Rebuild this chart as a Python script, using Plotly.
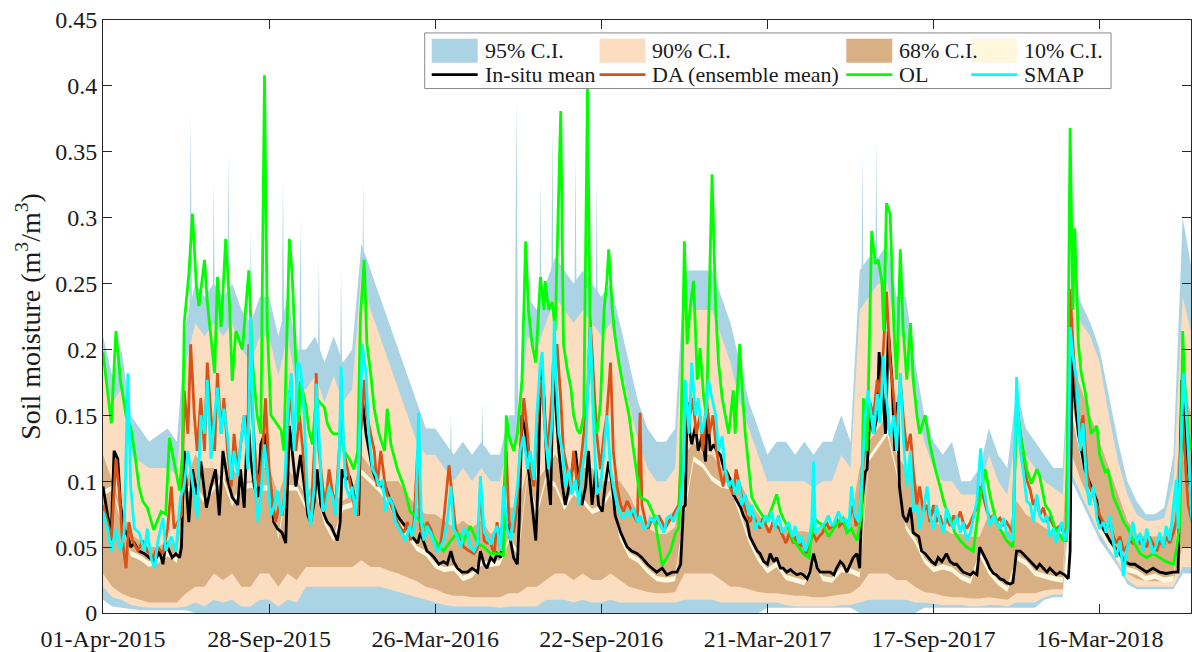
import pandas as pd
import plotly.graph_objects as go

# ---------------- data ----------------
START = "01-Apr-2015"
x_tick_labels = ["01-Apr-2015", "28-Sep-2015", "26-Mar-2016", "22-Sep-2016",
                 "21-Mar-2017", "17-Sep-2017", "16-Mar-2018"]
X_END_DAY = 1179
y_tick_vals = [0, 0.05, 0.1, 0.15, 0.2, 0.25, 0.3, 0.35, 0.4, 0.45]
y_tick_text = ["0", "0.05", "0.1", "0.15", "0.2", "0.25", "0.3", "0.35", "0.4", "0.45"]

# (day offset from 01-Apr-2015, soil moisture)
insitu = [(0, .096), (5, .074), (9, .061), (12, .123), (16, .117), (19, .082), (23, .064), (27, .058), (30, .050),
          (34, .053), (39, .047), (45, .045), (50, .042), (56, .039), (61, .047), (65, .037), (68, .053), (72, .047),
          (75, .042), (79, .045), (83, .042), (85, .050), (88, .123), (90, .099), (93, .069), (97, .109), (102, .090),
          (106, .115), (112, .080), (117, .096), (122, .109), (126, .074), (130, .123), (135, .101), (140, .088),
          (146, .082), (149, .109), (153, .080), (157, .150), (160, .117), (164, .096), (168, .088), (171, .128),
          (175, .136), (178, .109), (182, .093), (185, .069), (189, .064), (194, .061), (198, .053), (202, .142),
          (205, .123), (209, .096), (214, .120), (218, .096), (222, .074), (225, .069), (229, .085), (232, .109),
          (236, .082), (240, .074), (243, .069), (247, .066), (250, .061), (254, .055), (257, .069), (259, .109),
          (263, .101), (267, .104), (270, .096), (274, .082), (277, .074), (279, .136), (281, .163), (285, .136),
          (288, .123), (292, .109), (296, .101), (299, .099), (303, .096), (306, .096), (310, .088), (314, .082),
          (319, .074), (324, .069), (330, .064), (335, .058), (341, .053), (344, .061), (348, .053), (351, .047),
          (355, .045), (359, .042), (364, .037), (369, .039), (373, .037), (377, .047), (380, .039), (384, .034),
          (389, .031), (395, .031), (400, .034), (406, .031), (409, .047), (413, .037), (416, .034), (420, .042),
          (424, .039), (427, .045), (431, .042), (436, .074), (440, .061), (445, .042), (449, .037), (451, .069),
          (454, .150), (458, .136), (461, .109), (465, .082), (469, .055), (472, .109), (474, .190), (478, .163),
          (481, .109), (485, .082), (488, .190), (490, .163), (494, .123), (498, .096), (501, .082), (505, .096),
          (508, .109), (512, .123), (516, .096), (519, .082), (523, .096), (526, .123), (530, .082), (534, .109),
          (537, .082), (541, .077), (544, .096), (548, .115), (552, .096), (555, .074), (561, .061), (568, .050),
          (573, .047), (579, .045), (584, .042), (590, .037), (595, .034), (600, .031), (606, .034), (611, .029),
          (617, .031), (622, .031), (626, .037), (629, .080), (631, .082), (633, .160), (636, .136), (638, .128),
          (642, .142), (645, .123), (649, .134), (653, .115), (655, .155), (658, .123), (662, .128), (665, .123),
          (669, .120), (673, .109), (676, .107), (680, .101), (683, .090), (687, .085), (691, .080), (694, .074),
          (698, .069), (701, .058), (705, .053), (709, .047), (712, .045), (716, .039), (720, .037), (723, .045),
          (727, .039), (730, .042), (734, .034), (737, .034), (741, .031), (745, .033), (748, .031), (752, .029),
          (756, .030), (759, .029), (763, .026), (766, .031), (770, .045), (774, .034), (777, .031), (781, .031),
          (784, .031), (788, .031), (792, .029), (795, .034), (799, .039), (802, .037), (806, .031), (810, .037),
          (813, .042), (817, .045), (820, .034), (822, .082), (826, .107), (828, .109), (831, .150), (835, .136),
          (839, .150), (841, .198), (844, .177), (848, .136), (851, .214), (855, .177), (858, .123), (861, .160),
          (863, .096), (867, .074), (871, .069), (875, .080), (878, .061), (884, .058), (887, .047), (891, .045),
          (894, .042), (898, .039), (902, .037), (905, .042), (909, .039), (914, .045), (918, .039), (922, .037),
          (925, .037), (929, .034), (932, .031), (936, .030), (940, .029), (943, .031), (947, .029), (950, .050),
          (954, .045), (958, .039), (961, .034), (965, .030), (968, .029), (972, .026), (976, .025), (979, .023),
          (983, .022), (986, .023), (990, .047), (994, .047), (997, .045), (1001, .042), (1005, .039), (1008, .037),
          (1012, .034), (1015, .037), (1019, .034), (1023, .031), (1026, .034), (1030, .031), (1033, .029),
          (1037, .031), (1042, .029), (1046, .026), (1048, .047), (1050, .195), (1053, .163), (1057, .136),
          (1060, .123), (1064, .109), (1068, .101), (1071, .096), (1077, .085), (1080, .069), (1086, .061),
          (1091, .055), (1096, .050), (1102, .045), (1107, .039), (1113, .037), (1118, .037), (1124, .034),
          (1131, .031), (1138, .034), (1145, .031), (1152, .030), (1160, .031), (1165, .031), (1169, .177),
          (1172, .150), (1176, .109), (1180, .082)]

da_mean = [(0, .082), (5, .069), (9, .055), (14, .117), (18, .090), (21, .055), (25, .034), (28, .069), (32, .055),
           (38, .047), (43, .055), (48, .047), (54, .042), (59, .050), (65, .045), (70, .064), (74, .096), (77, .064),
           (81, .069), (85, .074), (88, .169), (92, .136), (95, .204), (99, .150), (102, .123), (106, .163),
           (110, .123), (113, .190), (117, .150), (121, .123), (124, .182), (128, .136), (131, .163), (135, .123),
           (139, .096), (142, .136), (146, .109), (149, .128), (153, .150), (157, .123), (158, .204), (162, .150),
           (166, .109), (169, .096), (173, .123), (176, .163), (180, .109), (184, .082), (187, .069), (191, .082),
           (194, .074), (198, .096), (202, .169), (205, .150), (209, .123), (213, .150), (218, .109), (222, .082),
           (225, .069), (229, .123), (231, .182), (234, .123), (238, .096), (241, .082), (245, .109), (249, .090),
           (252, .082), (256, .123), (258, .158), (261, .123), (265, .109), (268, .096), (272, .082), (276, .074),
           (279, .136), (283, .177), (286, .150), (290, .136), (294, .123), (297, .096), (301, .123), (305, .101),
           (308, .090), (312, .082), (315, .077), (319, .069), (323, .064), (326, .061), (330, .069), (333, .055),
           (337, .069), (341, .123), (344, .064), (348, .055), (351, .069), (355, .064), (359, .055), (362, .047),
           (366, .053), (369, .069), (375, .112), (379, .082), (382, .064), (386, .058), (391, .050), (397, .047),
           (402, .045), (406, .050), (409, .096), (413, .055), (416, .053), (420, .053), (424, .045), (427, .069),
           (431, .047), (434, .082), (437, .123), (440, .069), (445, .061), (449, .082), (452, .123), (456, .163),
           (460, .136), (463, .109), (467, .096), (470, .136), (474, .177), (478, .150), (481, .123), (485, .150),
           (489, .190), (492, .204), (496, .163), (499, .123), (503, .109), (507, .096), (510, .123), (514, .096),
           (517, .109), (521, .136), (525, .163), (528, .222), (532, .177), (535, .136), (539, .109), (543, .136),
           (546, .150), (550, .190), (553, .123), (557, .096), (561, .082), (564, .077), (568, .085), (571, .080),
           (575, .074), (579, .069), (582, .152), (584, .082), (588, .069), (591, .064), (595, .072), (599, .066),
           (602, .074), (606, .069), (609, .064), (613, .069), (617, .074), (620, .077), (624, .082), (626, .109),
           (629, .115), (632, .160), (636, .150), (639, .163), (643, .136), (647, .150), (650, .123), (654, .163),
           (657, .136), (661, .150), (665, .123), (668, .109), (672, .096), (675, .109), (679, .096), (683, .090),
           (686, .109), (690, .096), (693, .085), (697, .077), (701, .069), (704, .074), (708, .069), (712, .064),
           (715, .072), (719, .066), (722, .061), (726, .069), (730, .066), (733, .064), (737, .058), (740, .053),
           (744, .061), (748, .053), (751, .058), (755, .050), (758, .053), (762, .045), (766, .053), (769, .061),
           (773, .055), (776, .058), (780, .061), (784, .069), (787, .064), (791, .066), (795, .072), (798, .066),
           (802, .069), (805, .064), (809, .072), (813, .082), (816, .066), (820, .074), (823, .109), (827, .136),
           (831, .160), (835, .150), (839, .177), (842, .163), (846, .204), (849, .244), (853, .190), (857, .163),
           (860, .136), (864, .177), (867, .150), (871, .123), (875, .136), (878, .109), (882, .082), (885, .096),
           (889, .077), (893, .082), (896, .069), (900, .082), (903, .069), (907, .074), (911, .064), (914, .072),
           (918, .066), (922, .074), (925, .069), (929, .077), (932, .069), (936, .064), (940, .069), (943, .074),
           (947, .080), (950, .096), (954, .088), (958, .077), (961, .072), (965, .074), (968, .069), (972, .072),
           (976, .066), (979, .069), (983, .064), (986, .061), (990, .160), (994, .136), (997, .123), (1001, .101),
           (1005, .093), (1008, .082), (1012, .088), (1015, .074), (1019, .080), (1023, .069), (1026, .072),
           (1030, .066), (1033, .064), (1037, .066), (1041, .061), (1044, .064), (1048, .246), (1051, .204),
           (1055, .163), (1059, .136), (1062, .150), (1066, .109), (1069, .096), (1073, .090), (1077, .082),
           (1080, .074), (1084, .069), (1087, .064), (1091, .069), (1095, .058), (1098, .053), (1102, .058),
           (1106, .047), (1109, .050), (1113, .055), (1116, .053), (1120, .058), (1124, .053), (1127, .055),
           (1131, .050), (1134, .058), (1138, .053), (1142, .047), (1145, .055), (1149, .050), (1152, .058),
           (1156, .053), (1160, .061), (1163, .069), (1167, .096), (1170, .150), (1172, .123), (1176, .082),
           (1180, .069)]

open_loop = [(0, .198), (9, .144), (14, .214), (19, .176), (25, .150), (30, .141), (34, .123), (39, .096), (43, .085),
             (48, .080), (55, .063), (63, .077), (68, .075), (72, .133), (83, .093), (86, .120), (88, .220),
             (93, .257), (97, .303), (101, .250), (104, .233), (110, .268), (113, .236), (117, .209), (121, .182),
             (124, .255), (128, .217), (133, .284), (137, .236), (140, .176), (144, .214), (151, .200), (158, .260),
             (162, .190), (167, .150), (171, .136), (175, .408), (178, .217), (182, .150), (193, .139), (196, .123),
             (202, .284), (205, .257), (209, .190), (212, .145), (214, .176), (220, .157), (223, .139), (227, .128),
             (231, .163), (240, .156), (243, .144), (247, .138), (250, .136), (258, .136), (261, .123), (267, .117),
             (272, .109), (276, .123), (279, .225), (283, .268), (286, .204), (290, .182), (294, .155), (299, .136),
             (305, .123), (308, .155), (312, .128), (319, .109), (326, .096), (333, .077), (341, .072), (348, .066),
             (355, .061), (362, .053), (369, .047), (377, .055), (384, .061), (391, .055), (398, .066), (406, .053),
             (413, .050), (420, .045), (431, .045), (434, .043), (437, .150), (440, .134), (445, .123), (449, .136),
             (454, .177), (458, .282), (461, .230), (465, .204), (469, .190), (474, .255), (478, .230), (479, .252),
             (483, .230), (487, .236), (490, .214), (496, .381), (499, .204), (503, .185), (507, .171), (510, .150),
             (514, .139), (517, .136), (521, .150), (525, .399), (528, .204), (532, .150), (535, .136), (539, .158),
             (543, .230), (546, .252), (548, .276), (552, .230), (555, .209), (559, .190), (564, .171), (570, .150),
             (575, .123), (582, .088), (590, .085), (597, .074), (604, .045), (606, .036), (611, .042), (615, .047),
             (620, .060), (624, .065), (626, .120), (630, .282), (633, .204), (636, .230), (640, .252), (644, .177),
             (647, .201), (651, .163), (654, .150), (660, .333), (664, .230), (667, .190), (671, .163), (674, .150),
             (678, .136), (683, .169), (685, .136), (690, .204), (692, .177), (696, .136), (700, .109), (703, .088),
             (709, .080), (714, .074), (719, .069), (725, .080), (730, .090), (734, .077), (737, .072), (743, .064),
             (748, .055), (754, .050), (759, .045), (765, .042), (770, .072), (775, .069), (781, .066), (786, .058),
             (792, .064), (797, .069), (802, .072), (806, .061), (811, .064), (817, .055), (822, .074), (824, .163),
             (828, .123), (833, .290), (837, .265), (840, .268), (844, .252), (846, .214), (849, .311), (853, .303),
             (857, .217), (860, .177), (864, .276), (867, .217), (871, .177), (875, .220), (878, .177), (882, .150),
             (885, .136), (891, .150), (896, .128), (902, .109), (907, .096), (912, .082), (918, .072), (923, .061),
             (929, .055), (936, .050), (943, .047), (950, .085), (956, .109), (961, .090), (967, .072), (972, .064),
             (979, .055), (986, .050), (990, .160), (995, .131), (1001, .109), (1006, .098), (1012, .109),
             (1015, .104), (1021, .082), (1026, .077), (1032, .064), (1035, .061), (1041, .055), (1044, .055),
             (1048, .368), (1051, .230), (1053, .292), (1057, .204), (1060, .182), (1064, .169), (1068, .150),
             (1071, .136), (1077, .142), (1080, .120), (1086, .107), (1089, .109), (1095, .088), (1100, .080),
             (1106, .069), (1111, .064), (1116, .055), (1124, .045), (1131, .042), (1138, .045), (1145, .042),
             (1152, .039), (1160, .037), (1163, .047), (1167, .069), (1170, .214), (1172, .177), (1176, .136),
             (1180, .123)]

smap = [(0, .077), (5, .064), (9, .047), (14, .064), (19, .047), (23, .061), (27, .182), (30, .096), (34, .064),
        (39, .061), (45, .047), (48, .064), (52, .042), (56, .034), (59, .053), (65, .072), (68, .047), (74, .058),
        (79, .047), (84, .088), (88, .096), (92, .123), (95, .109), (99, .088), (102, .072), (106, .150), (110, .136),
        (113, .177), (117, .117), (121, .150), (124, .171), (128, .136), (131, .155), (135, .134), (139, .101),
        (142, .123), (146, .104), (149, .128), (153, .150), (157, .109), (160, .225), (164, .104), (168, .069),
        (171, .088), (175, .128), (178, .109), (182, .074), (185, .080), (189, .093), (193, .074), (196, .082),
        (200, .150), (204, .182), (207, .123), (211, .190), (214, .187), (218, .150), (222, .082), (225, .066),
        (229, .096), (231, .174), (234, .136), (238, .077), (241, .080), (245, .096), (249, .088), (252, .074),
        (256, .120), (258, .187), (261, .123), (263, .096), (267, .088), (270, .096), (274, .074), (277, .109),
        (281, .204), (285, .182), (288, .136), (292, .109), (296, .104), (299, .096), (303, .101), (306, .077),
        (310, .088), (314, .082), (317, .069), (323, .061), (328, .055), (332, .066), (335, .058), (339, .074),
        (342, .152), (345, .069), (348, .055), (351, .066), (355, .061), (359, .053), (362, .047), (366, .050),
        (369, .055), (373, .069), (377, .096), (380, .064), (384, .058), (388, .050), (391, .064), (395, .061),
        (398, .050), (402, .047), (406, .053), (409, .104), (413, .061), (416, .058), (420, .052), (424, .061),
        (427, .066), (431, .047), (434, .096), (438, .064), (442, .055), (445, .074), (449, .096), (452, .123),
        (456, .134), (460, .109), (463, .123), (467, .101), (470, .150), (474, .190), (476, .198), (479, .136),
        (483, .109), (487, .150), (489, .222), (491, .177), (494, .136), (498, .123), (501, .096), (505, .109),
        (508, .090), (512, .101), (516, .082), (519, .109), (523, .123), (526, .182), (528, .217), (532, .136),
        (535, .090), (539, .096), (543, .123), (546, .150), (550, .109), (553, .096), (557, .082), (561, .074),
        (564, .072), (568, .077), (571, .074), (575, .080), (579, .069), (582, .074), (586, .064), (590, .066),
        (593, .072), (597, .069), (600, .074), (604, .066), (608, .061), (611, .072), (615, .074), (618, .069),
        (622, .077), (626, .082), (629, .109), (631, .177), (635, .136), (638, .190), (642, .150), (645, .163),
        (649, .136), (653, .150), (656, .177), (660, .163), (664, .150), (667, .123), (671, .134), (674, .109),
        (678, .096), (682, .101), (685, .090), (689, .101), (692, .082), (696, .090), (700, .074), (703, .082),
        (707, .064), (710, .069), (714, .066), (718, .074), (721, .069), (725, .077), (728, .064), (732, .074),
        (736, .061), (739, .064), (743, .069), (747, .058), (750, .066), (754, .053), (757, .058), (761, .047),
        (765, .055), (768, .069), (770, .115), (772, .061), (775, .064), (779, .066), (783, .069), (786, .074),
        (790, .066), (793, .069), (797, .077), (801, .069), (804, .072), (808, .064), (811, .096), (815, .074),
        (819, .069), (822, .096), (826, .150), (829, .169), (835, .136), (839, .166), (842, .144), (846, .195),
        (849, .163), (853, .134), (857, .150), (860, .123), (864, .182), (867, .136), (871, .096), (875, .123),
        (878, .077), (882, .082), (885, .064), (889, .077), (893, .096), (896, .074), (900, .064), (903, .082),
        (907, .069), (911, .061), (914, .080), (918, .069), (922, .064), (925, .074), (929, .061), (932, .069),
        (936, .055), (940, .061), (943, .072), (947, .085), (951, .125), (954, .096), (958, .080), (961, .066),
        (965, .074), (968, .069), (972, .064), (976, .072), (979, .061), (983, .058), (986, .055), (990, .179),
        (994, .123), (997, .109), (1001, .085), (1005, .082), (1008, .069), (1012, .090), (1015, .074),
        (1019, .069), (1023, .074), (1026, .058), (1030, .064), (1033, .053), (1035, .061), (1039, .069),
        (1042, .055), (1046, .064), (1048, .217), (1051, .195), (1055, .177), (1059, .123), (1062, .144),
        (1066, .096), (1069, .082), (1073, .096), (1077, .072), (1080, .064), (1084, .069), (1087, .061),
        (1091, .074), (1095, .053), (1098, .042), (1102, .055), (1106, .028), (1109, .047), (1113, .058),
        (1116, .069), (1120, .053), (1124, .061), (1127, .047), (1131, .064), (1134, .055), (1138, .045),
        (1142, .053), (1145, .061), (1149, .050), (1152, .066), (1156, .055), (1160, .080), (1163, .101),
        (1165, .064), (1169, .150), (1171, .182), (1174, .150), (1178, .096), (1180, .069)]

# confidence-interval envelopes, sampled every 10 days (day offsets)
band_day = list(range(0, 1181, 10))
ci95_lo = [.010, .005, .004, .003, .002, .002, .002, .002, .002, .002,
           0, 0, 0, 0, 0, 0, 0, 0, 0, 0,
           0, 0, 0, 0, 0, 0, 0, 0, 0, 0,
           0, 0, 0, 0, 0, 0, 0, 0, 0, 0,
           0, 0, 0, 0, 0, 0, 0, 0, 0, 0,
           0, 0, 0, 0, 0, 0, 0, 0, 0, 0,
           0, 0, 0, 0, 0, 0, 0, 0, 0, 0,
           0, 0, .004, .004, .004, .004, .004, .004, .004, .004,
           .004, .004, 0, 0, 0, 0, 0, 0, 0, .004,
           .004, .004, .004, .004, .004, .004, .004, .004, .004, .004,
           .004, .004, .010, .012, .012, .100, .085, .070, .055, .045,
           .035, .022, .018, .018, .018, .018, .018, .030, .030]
ci95_hi = [.21, .18, .20, .15, .14, .13, .135, .14, .13, .22,
           .25, .24, .25, .24, .25, .23, .22, .24, .24, .21,
           .24, .20, .20, .21, .19, .21, .19, .20, .28, .26,
           .24, .22, .20, .18, .16, .14, .14, .13, .12, .13,
           .12, .13, .12, .12, .15, .15, .24, .23, .25, .27,
           .26, .25, .26, .25, .24, .25, .22, .19, .16, .14,
           .13, .13, .14, .26, .26, .26, .26, .24, .22, .19,
           .16, .14, .12, .13, .13, .12, .13, .12, .13, .13,
           .15, .13, .26, .27, .27, .28, .24, .24, .19, .15,
           .13, .12, .13, .10, .10, .11, .14, .12, .11, .17,
           .14, .13, .12, .11, .11, .25, .235, .22, .20, .165,
           .13, .10, .085, .075, .075, .08, .12, .30, .26]
# thin 95% C.I. excursions (day offset, peak)
ci95_spikes = [(95, .38), (120, .33), (136, .35), (160, .29), (195, .33), (214, .30), (234, .27), (258, .26),
               (282, .33), (377, .15), (411, .16), (448, .39), (474, .33), (487, .37), (512, .35), (535, .33),
               (636, .28), (823, .35), (838, .36), (1170, .30)]
ci90_lo = [.020, .012, .010, .006, .005, .004, .004, .004, .004, .005,
           .008, .005, .010, .008, .010, .005, .005, .010, .010, .005,
           .010, .008, .020, .020, .020, .020, .020, .020, .020, .020,
           .020, .018, .016, .014, .012, .010, .008, .006, .005, .005,
           .005, .005, .005, .004, .005, .005, .005, .005, .010, .010,
           .010, .008, .010, .008, .008, .010, .008, .008, .008, .008,
           .008, .008, .008, .010, .010, .010, .010, .008, .008, .008,
           .008, .008, .008, .008, .006, .005, .005, .005, .005, .005,
           .006, .006, .008, .010, .010, .010, .010, .010, .008, .008,
           .007, .006, .006, .006, .005, .005, .006, .006, .005, .008,
           .008, .008, .012, .014, .014, .105, .090, .075, .060, .050,
           .038, .025, .020, .020, .020, .020, .020, .035, .035]
ci90_hi = [.19, .16, .17, .12, .115, .11, .11, .11, .105, .19,
           .22, .21, .22, .21, .22, .20, .19, .21, .21, .18,
           .21, .17, .17, .18, .16, .18, .16, .17, .26, .23,
           .21, .19, .17, .15, .13, .12, .12, .11, .10, .11,
           .10, .11, .10, .10, .13, .13, .21, .20, .22, .24,
           .23, .22, .23, .22, .21, .22, .19, .16, .13, .11,
           .10, .10, .11, .24, .23, .23, .23, .21, .19, .16,
           .14, .12, .10, .10, .10, .10, .10, .095, .10, .10,
           .12, .11, .23, .24, .25, .25, .21, .21, .16, .13,
           .11, .10, .10, .09, .09, .09, .12, .10, .09, .14,
           .12, .11, .10, .095, .09, .24, .22, .21, .19, .15,
           .115, .09, .075, .07, .07, .072, .10, .24, .21]
ci68_lo = [.030, .020, .015, .012, .010, .008, .008, .008, .008, .015,
           .020, .020, .030, .025, .030, .020, .020, .030, .030, .020,
           .030, .025, .035, .035, .035, .035, .035, .035, .040, .035,
           .035, .032, .030, .027, .024, .020, .018, .015, .013, .013,
           .012, .012, .012, .012, .015, .015, .020, .020, .025, .030,
           .030, .025, .030, .025, .025, .030, .025, .020, .018, .016,
           .015, .015, .016, .030, .030, .030, .030, .025, .020, .020,
           .018, .016, .015, .015, .014, .013, .013, .012, .012, .013,
           .014, .015, .020, .030, .030, .030, .025, .025, .020, .016,
           .015, .013, .012, .012, .011, .011, .012, .011, .010, .015,
           .015, .015, .017, .018, .018, .120, .100, .085, .070, .058,
           .045, .030, .026, .024, .024, .024, .025, .050, .050]
ci68_hi = [.12, .10, .08, .06, .055, .05, .05, .055, .05, .10,
           .12, .11, .11, .10, .11, .10, .10, .11, .11, .09,
           .11, .10, .09, .10, .09, .09, .085, .09, .12, .11,
           .10, .10, .10, .09, .08, .075, .075, .07, .065, .07,
           .065, .07, .06, .065, .08, .08, .11, .10, .11, .12,
           .11, .10, .11, .11, .10, .10, .10, .09, .075, .065,
           .06, .06, .065, .12, .13, .12, .12, .11, .10, .10,
           .085, .075, .065, .065, .065, .062, .062, .06, .065, .065,
           .07, .07, .11, .13, .14, .15, .12, .11, .10, .08,
           .07, .065, .06, .06, .058, .058, .075, .065, .06, .085,
           .075, .07, .065, .06, .06, .19, .17, .15, .13, .11,
           .09, .07, .06, .058, .058, .058, .07, .17, .15]
ci10_lo = [.089, .093, .068, .043, .040, .035, .038, .043, .038, .092,
           .093, .083, .093, .100, .081, .093, .095, .093, .093, .056,
           .093, .093, .078, .093, .067, .054, .078, .080, .105, .098,
           .091, .081, .066, .057, .047, .043, .034, .031, .032, .024,
           .027, .036, .035, .036, .054, .043, .103, .073, .100, .095,
           .078, .090, .083, .075, .078, .090, .056, .042, .038, .030,
           .024, .023, .024, .074, .115, .110, .100, .095, .094, .074,
           .053, .039, .030, .035, .025, .023, .021, .038, .024, .023,
           .031, .030, .027, .115, .125, .135, .105, .063, .053, .038,
           .031, .033, .031, .025, .022, .043, .029, .021, .016, .040,
           .036, .028, .026, .024, .023, .150, .116, .090, .062, .049,
           .040, .031, .029, .024, .026, .023, .024, .120, .075]
ci10_hi = [.093, .097, .072, .047, .044, .039, .042, .047, .042, .096,
           .097, .087, .097, .104, .085, .097, .099, .097, .097, .060,
           .097, .097, .082, .097, .071, .058, .082, .084, .109, .102,
           .095, .085, .070, .061, .051, .047, .038, .035, .036, .028,
           .031, .040, .039, .040, .058, .047, .107, .077, .104, .099,
           .082, .094, .087, .079, .082, .094, .060, .046, .042, .034,
           .028, .027, .028, .078, .119, .114, .104, .099, .098, .078,
           .057, .043, .034, .039, .029, .027, .025, .042, .028, .027,
           .035, .034, .031, .119, .129, .139, .109, .067, .057, .042,
           .035, .037, .035, .029, .026, .047, .033, .025, .020, .044,
           .040, .032, .030, .028, .027, .160, .120, .094, .066, .053,
           .044, .035, .033, .028, .030, .027, .028, .130, .079]

legend_labels = ["95% C.I.", "90% C.I.", "68% C.I.", "10% C.I.",
                 "In-situ mean", "DA (ensemble mean)", "OL", "SMAP"]

# ---------------- styling ----------------
FONT = "Liberation Serif, Times New Roman, serif"
AX = "#262626"
C95, C90, C68, C10 = "#AAD3E3", "#FBDEBF", "#D9AF84", "#FFF6DE"
C_INSITU, C_DA, C_OL, C_SMAP = "#000000", "#D95319", "#00FF00", "#00FFFF"
LW = 2.8
SPIKE_HALF_DAYS = 3
SPIKE_BASE = 0.05

base = pd.to_datetime(START, format="%d-%b-%Y")


def to_dates(days):
    return [base + pd.Timedelta(days=float(d)) for d in days]


for arr in (ci95_lo, ci95_hi, ci90_lo, ci90_hi, ci68_lo, ci68_hi, ci10_lo, ci10_hi):
    assert len(arr) == len(band_day), len(arr)

fig = go.Figure()
bx = to_dates(band_day)


def add_band(lo, hi, col):
    fig.add_trace(go.Scatter(x=bx + bx[::-1], y=list(hi) + list(lo)[::-1], fill="toself",
                             fillcolor=col, mode="lines", line=dict(width=0, color=col),
                             hoverinfo="skip", showlegend=False))


add_band(ci95_lo, ci95_hi, C95)
# thin spikes of the 95% band
sx, sy = [], []
for d, pk in ci95_spikes:
    sx += to_dates([d - SPIKE_HALF_DAYS, d, d + SPIKE_HALF_DAYS]) + [None]
    sy += [SPIKE_BASE, pk, SPIKE_BASE, None]
fig.add_trace(go.Scatter(x=sx, y=sy, fill="toself", fillcolor=C95, mode="lines",
                         line=dict(width=0, color=C95), hoverinfo="skip", showlegend=False))
add_band(ci90_lo, ci90_hi, C90)
add_band(ci68_lo, ci68_hi, C68)
add_band(ci10_lo, ci10_hi, C10)

for series, col in ((insitu, C_INSITU), (da_mean, C_DA), (open_loop, C_OL), (smap, C_SMAP)):
    d = [p[0] for p in series]
    v = [p[1] for p in series]
    fig.add_trace(go.Scatter(x=to_dates(d), y=v, mode="lines",
                             line=dict(color=col, width=LW), showlegend=False))

# ---------------- layout ----------------
L, R, T, B, W, H = 103, 0, 20, 35, 1192, 652
PW, PH = W - L - R, H - T - B


def px(x):
    return (x - L) / PW


def py(y):
    return (T + PH - y) / PH


fig.update_layout(
    width=W, height=H, margin=dict(l=L, r=R, t=T, b=B),
    paper_bgcolor="white", plot_bgcolor="white", showlegend=False,
    font=dict(family=FONT, color="#1a1a1a"),
)
fig.update_xaxes(
    type="date", range=[base, base + pd.Timedelta(days=X_END_DAY)],
    tickvals=[pd.to_datetime(t, format="%d-%b-%Y") for t in x_tick_labels], ticktext=x_tick_labels,
    ticks="inside", ticklen=9, tickcolor=AX, showline=True, linecolor=AX, linewidth=1,
    mirror="ticks", showgrid=False, zeroline=False, ticklabelstandoff=4,
    tickfont=dict(family=FONT, size=24, color="#1a1a1a"),
)
fig.update_yaxes(
    range=[0, 0.45], tickvals=y_tick_vals, ticktext=y_tick_text,
    ticks="inside", ticklen=9, tickcolor=AX, showline=True, linecolor=AX, linewidth=1,
    mirror="ticks", showgrid=False, zeroline=False,
    tickfont=dict(family=FONT, size=24, color="#1a1a1a"),
    title=dict(text="Soil moisture (m<sup>3</sup>/m<sup>3</sup>)",
               font=dict(family=FONT, size=28, color="#1a1a1a"), standoff=6),
)

# legend drawn as a boxed two-row table (like the MATLAB legend)
shapes = [dict(type="rect", xref="paper", yref="paper", x0=px(425), x1=px(1112), y0=py(89), y1=py(33),
               line=dict(color="#8a8a8a", width=1), fillcolor="white", layer="above")]
annotations = []
col_x = [432, 600, 847, 972]
row1_y, row2_y = 51, 75
patch_cols = [C95, C90, C68, C10]
line_cols = [C_INSITU, C_DA, C_OL, C_SMAP]
for i in range(4):
    x0 = col_x[i]
    shapes.append(dict(type="rect", xref="paper", yref="paper", x0=px(x0), x1=px(x0 + 46),
                       y0=py(row1_y + 12), y1=py(row1_y - 12), line=dict(width=0),
                       fillcolor=patch_cols[i], layer="above"))
    shapes.append(dict(type="line", xref="paper", yref="paper", x0=px(x0), x1=px(x0 + 46),
                       y0=py(row2_y), y1=py(row2_y), line=dict(color=line_cols[i], width=LW),
                       layer="above"))
    for row, yy in ((0, row1_y), (1, row2_y)):
        annotations.append(dict(text=legend_labels[row * 4 + i], xref="paper", yref="paper",
                                x=px(x0 + 51), y=py(yy), xanchor="left", yanchor="middle",
                                showarrow=False, font=dict(family=FONT, size=22, color="#1a1a1a")))
fig.update_layout(shapes=shapes, annotations=annotations)

fig.write_html("out.html")
